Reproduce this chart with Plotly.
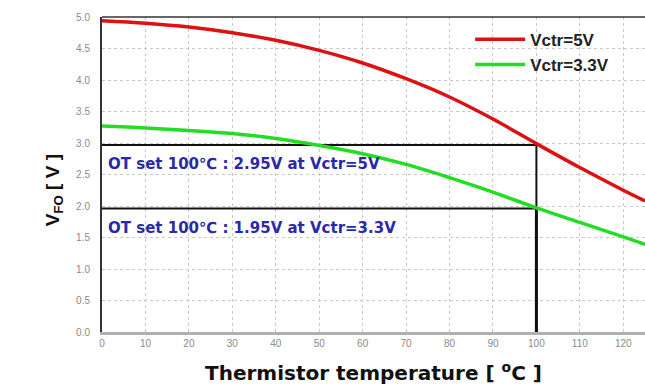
import plotly.graph_objects as go

temp = [0, 10, 20, 30, 40, 50, 60, 70, 80, 90, 100, 110, 120, 125]
v_5v = [4.94, 4.90, 4.84, 4.75, 4.63, 4.47, 4.27, 4.02, 3.73, 3.38, 2.99, 2.61, 2.25, 2.08]
v_33v = [3.27, 3.24, 3.20, 3.15, 3.07, 2.96, 2.83, 2.66, 2.45, 2.22, 1.97, 1.74, 1.51, 1.39]
ot_temp = 100
ot_5v = 2.97
ot_33v = 1.96
y_ticks = [0, 0.5, 1, 1.5, 2, 2.5, 3, 3.5, 4, 4.5, 5]
x_ticks = [0, 10, 20, 30, 40, 50, 60, 70, 80, 90, 100, 110, 120]
label_5v = "OT set 100\u2103 : 2.95V at Vctr=5V"
label_33v = "OT set 100\u2103 : 1.95V at Vctr=3.3V"

FONT = "Liberation Sans, Arial, sans-serif"
WIDE = "DejaVu Sans, Verdana, sans-serif"

fig = go.Figure()
# reference lines
fig.add_trace(go.Scatter(x=[0, ot_temp, ot_temp], y=[ot_5v, ot_5v, 0], mode="lines",
                         line=dict(color="#111111", width=2), showlegend=False, hoverinfo="skip"))
fig.add_trace(go.Scatter(x=[0, ot_temp], y=[ot_33v, ot_33v], mode="lines",
                         line=dict(color="#111111", width=2), showlegend=False, hoverinfo="skip"))
fig.add_trace(go.Scatter(x=[ot_temp, ot_temp], y=[0, ot_33v], mode="lines",
                         line=dict(color="#111111", width=3), showlegend=False, hoverinfo="skip"))
fig.add_trace(go.Scatter(x=temp, y=v_5v, mode="lines", name="Vctr=5V",
                         line=dict(color="#dd1111", width=3.5, shape="spline")))
fig.add_trace(go.Scatter(x=temp, y=v_33v, mode="lines", name="Vctr=3.3V",
                         line=dict(color="#22dd22", width=3.5, shape="spline")))

tickfont = dict(family=FONT, size=10, color="#8a8a8a")
fig.update_layout(
    width=645, height=385,
    margin=dict(l=102, r=0, t=17, b=53),
    paper_bgcolor="white", plot_bgcolor="white",
    showlegend=True,
    legend=dict(x=0.678, y=0.985, xanchor="left", yanchor="top",
                bgcolor="rgba(0,0,0,0)", itemwidth=50,
                font=dict(family=FONT, size=17, color="#222222", weight="bold")),
    xaxis=dict(range=[0, 125], tickvals=x_ticks, ticktext=[str(v) for v in x_ticks],
               tickfont=tickfont, showgrid=True, gridcolor="#c8c8c8", griddash="dot", gridwidth=1,
               zeroline=False, showline=True, linecolor="#b0b0b0", linewidth=3,
               ticks="", mirror=False),
    yaxis=dict(range=[0, 5.0], tickvals=y_ticks, ticktext=[f"{v:.1f}" for v in y_ticks],
               tickfont=tickfont, showgrid=True, gridcolor="#c8c8c8", griddash="dot", gridwidth=1,
               zeroline=False, showline=True, linecolor="#333333", linewidth=2,
               ticks="", ticklabelstandoff=8),
)
# top border
fig.add_shape(type="line", xref="paper", yref="paper", x0=0, x1=1, y0=1, y1=1,
              line=dict(color="#333333", width=1.5))

fig.add_annotation(x=1, y=ot_5v - 0.30, xref="x", yref="y", text=label_5v, showarrow=False,
                   xanchor="left", yanchor="middle",
                   font=dict(family=WIDE, size=15, color="#2a2aa8", weight="bold"))
fig.add_annotation(x=1, y=ot_33v - 0.31, xref="x", yref="y", text=label_33v, showarrow=False,
                   xanchor="left", yanchor="middle",
                   font=dict(family=WIDE, size=15, color="#2a2aa8", weight="bold"))

fig.add_annotation(x=-0.114, y=0.45, xref="paper", yref="paper",
                   text="V<sub>FO</sub> [ V ]", showarrow=False, textangle=-90,
                   font=dict(family=FONT, size=19, color="#111111", weight="bold"))
fig.add_annotation(x=0.5, y=-0.128, xref="paper", yref="paper",
                   text="Thermistor temperature [ <sup>o</sup>C ]", showarrow=False,
                   xanchor="center", yanchor="middle",
                   font=dict(family=WIDE, size=20, color="#111111", weight="bold"))

fig.write_html("out.html", config={"displayModeBar": False},
               post_script="document.body.style.margin='0';document.body.style.overflow='hidden';")
